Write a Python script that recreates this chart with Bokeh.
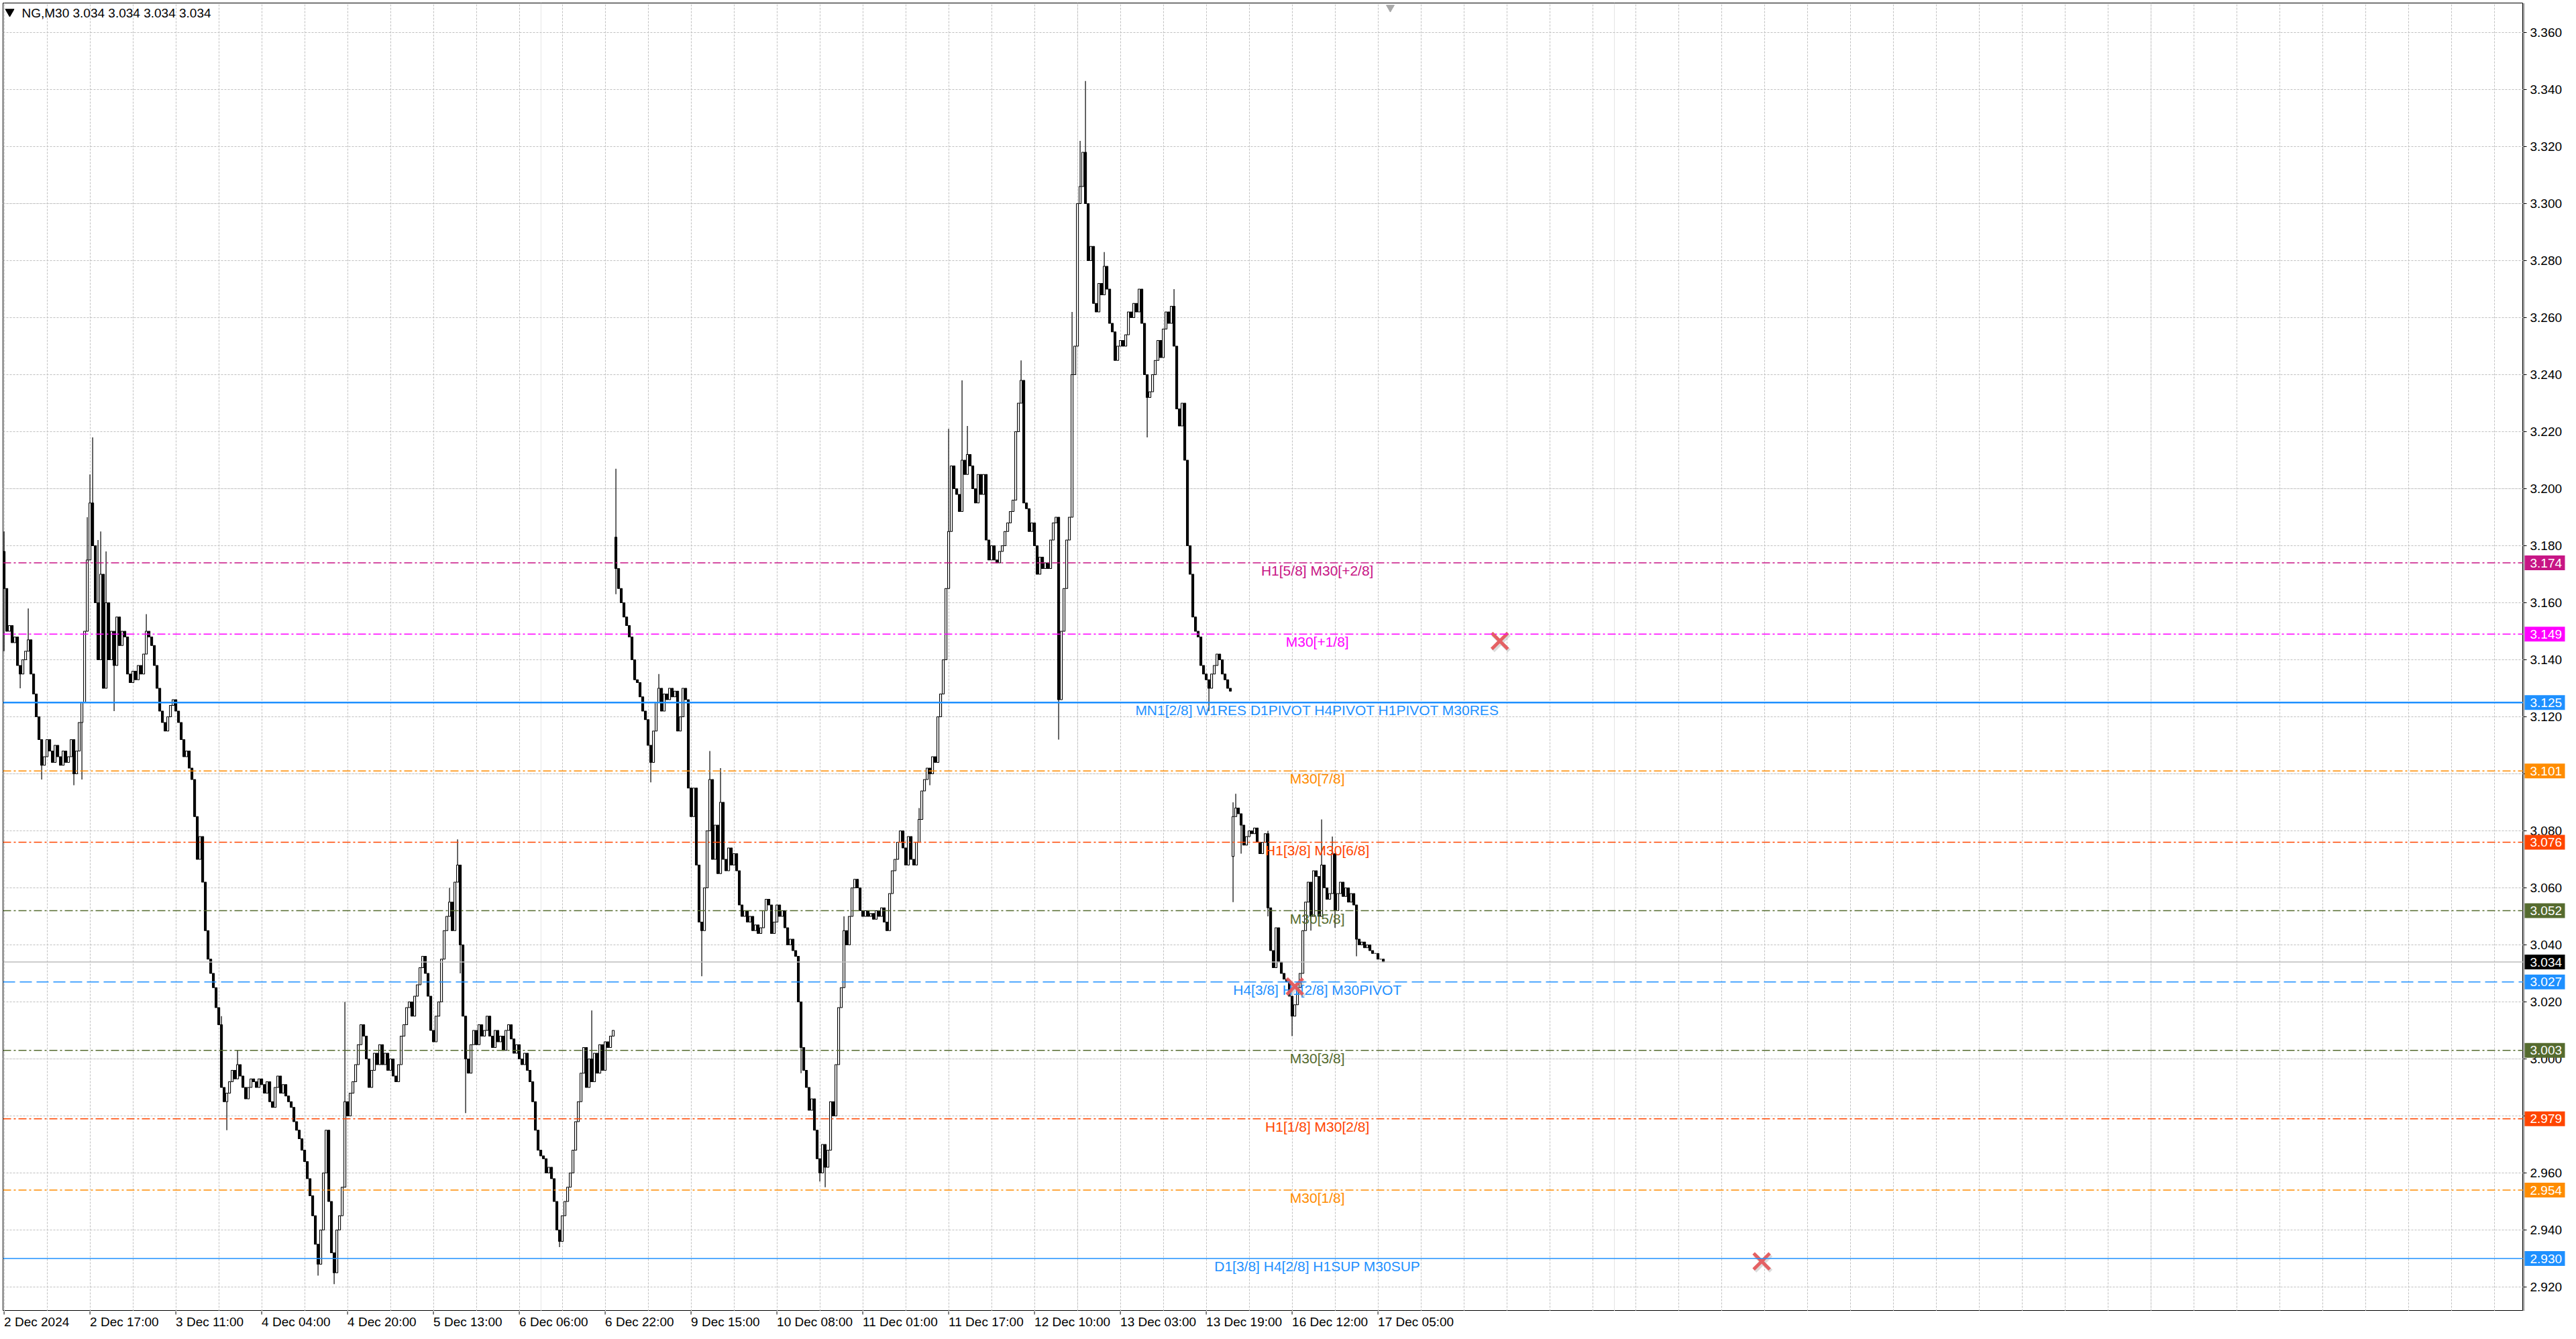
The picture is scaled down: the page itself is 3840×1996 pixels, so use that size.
from bokeh.plotting import figure
from bokeh.layouts import row, column
from bokeh.models import FixedTicker, Span, Grid, Range1d, ColumnDataSource
from bokeh.core.properties import value
from bokeh.embed import file_html
from bokeh.resources import INLINE

# NG, M30 candles, prices in thousandths (bar 0 = 2 Dec 2024 00:00)
title_text = "NG,M30  3.034 3.034 3.034 3.034"
last_price = 3.034

close_k = [
    3165, 3150, 3152, 3146, 3148, 3138, 3135, 3140, 3143, 3147,
    3135, 3128, 3120, 3112, 3103, 3106, 3112, 3108, 3104, 3110,
    3106, 3103, 3108, 3104, 3106, 3112, 3100, 3108, 3118, 3125,
    3150, 3175, 3195, 3180, 3160, 3140, 3170, 3130, 3160, 3140,
    3150, 3138, 3155, 3145, 3150, 3148, 3135, 3132, 3136, 3133,
    3138, 3135, 3142, 3150, 3148, 3145, 3138, 3130, 3122, 3118,
    3115, 3120, 3124, 3126, 3122, 3118, 3112, 3106, 3108, 3102,
    3098, 3085, 3070, 3078, 3062, 3045, 3035, 3030, 3025, 3018,
    3012, 2990, 2985, 2988, 2992, 2996, 2993, 2998, 2994, 2990,
    2986, 2990, 2993, 2992, 2990, 2993, 2991, 2988, 2992, 2985,
    2983, 2990, 2994, 2988, 2991, 2987, 2985, 2983, 2978, 2975,
    2972, 2968, 2964, 2958, 2952, 2945, 2935, 2928, 2940, 2960,
    2975, 2950, 2932, 2925, 2940, 2945, 2955, 2985, 2980, 2988,
    2992, 2998, 3005, 3012, 3008, 3000, 2990, 2996, 3002, 2998,
    3005, 2998, 3002, 2996, 3000, 2994, 2992, 2998, 3008, 3012,
    3018, 3020, 3015, 3022, 3026, 3032, 3036, 3030, 3022, 3010,
    3006, 3015, 3020, 3035, 3045, 3050, 3055, 3045, 3062, 3068,
    3040, 3015, 3000, 2995, 3005, 3010, 3005, 3012, 3008, 3010,
    3015, 3008, 3004, 3010, 3006, 3008, 3003, 3010, 3012, 3007,
    3002, 3005, 3000, 2998, 3002, 2996, 2992, 2985, 2975, 2968,
    2966, 2965, 2960, 2962, 2958, 2950, 2940, 2936, 2945, 2950,
    2955, 2960, 2968, 2978, 2985, 2995, 3004, 2990, 3000, 2992,
    3002, 2995, 3005, 2996, 3006, 3004, 3008, 3010,
    # 9 Dec
    3172, 3165, 3160, 3155, 3152, 3148, 3140, 3133, 3132, 3127,
    3122, 3119, 3110, 3104, 3115, 3125, 3130, 3122, 3128, 3126,
    3130, 3127, 3129, 3115, 3120, 3130, 3126, 3095, 3085, 3095,
    3068, 3048, 3045, 3060, 3080, 3098, 3070, 3082, 3065, 3090,
    3070, 3066, 3074, 3068, 3072, 3066, 3054, 3050, 3052, 3048,
    3050, 3045, 3047, 3044, 3046, 3052, 3056, 3054, 3044, 3048,
    3054, 3050, 3052, 3046, 3040, 3042, 3038, 3036, 3020, 3004,
    2996, 2990, 2982, 2986, 2975, 2965, 2960, 2970, 2962, 2968,
    2985, 2980, 2998, 3018, 3025, 3045, 3040, 3050, 3060, 3063,
    3060, 3052, 3050, 3052, 3050, 3051, 3049, 3052, 3050, 3053,
    3048, 3045, 3058, 3066, 3070, 3076, 3080, 3074, 3068, 3078,
    3070, 3068, 3076, 3084, 3094, 3098, 3102, 3100, 3106, 3104,
    3120, 3128, 3140, 3165, 3185, 3208, 3200, 3198, 3192, 3210,
    3205, 3212, 3208, 3200, 3195, 3205, 3198, 3205, 3182, 3175,
    3180, 3175, 3174, 3178, 3180, 3185, 3188, 3192, 3196, 3220,
    3230, 3238, 3195, 3193, 3185, 3188, 3180, 3170, 3176, 3172,
    3174, 3172, 3182, 3188, 3190, 3126, 3150, 3165, 3182, 3190,
    3240, 3250, 3300, 3306, 3318, 3300, 3280, 3285, 3265, 3262,
    3272, 3268, 3278, 3270, 3258, 3255, 3245, 3250, 3252, 3250,
    3254, 3262, 3260, 3265, 3262, 3270, 3258, 3240, 3232, 3234,
    3240, 3245, 3252, 3246, 3256, 3262, 3258, 3264, 3250, 3228,
    3222, 3230, 3210, 3180, 3170, 3155, 3150, 3148, 3138, 3135,
    3133, 3130, 3135, 3138, 3142, 3140, 3135, 3133, 3130, 3129,
    # 16 Dec
    3085, 3088, 3086, 3082, 3075, 3078, 3080, 3079, 3081, 3076,
    3072, 3076, 3079, 3053, 3038, 3032, 3046, 3034, 3030, 3028,
    3027, 3022, 3015, 3019, 3025, 3030, 3045, 3055, 3062, 3050,
    3066, 3064, 3050, 3068, 3060, 3056, 3058, 3072, 3052, 3058,
    3062, 3057, 3060, 3055, 3058, 3054, 3042, 3040, 3041, 3039,
    3040, 3038, 3037, 3037, 3035, 3035, 3034,
]

# opens that do not follow the previous close (session gaps)
gap_open_k = {0: 3178, 228: 3183, 458: 3071}

# long wicks
high_k = {0: 3185, 9: 3158, 31: 3190, 32: 3205, 33: 3218, 35: 3182, 36: 3185,
          38: 3178, 53: 3156, 81: 3015, 87: 3003, 127: 3020, 166: 3060,
          169: 3077, 219: 3017, 228: 3207, 244: 3135, 263: 3108, 267: 3102,
          313: 3050, 341: 3088, 352: 3221, 357: 3238, 359: 3222, 379: 3245,
          398: 3262, 401: 3322, 403: 3343, 410: 3283, 436: 3270, 441: 3185,
          458: 3090, 459: 3093, 471: 3080, 491: 3084, 495: 3078}
low_k = {0: 3143, 6: 3130, 14: 3098, 26: 3096, 29: 3098, 41: 3122, 83: 2975,
         117: 2924, 123: 2921, 170: 3030, 172: 2981, 207: 2934, 228: 3163,
         241: 3097, 260: 3029, 297: 2995, 304: 2957, 306: 2955, 345: 3096,
         393: 3112, 426: 3218, 449: 3122, 458: 3055, 461: 3072, 471: 3050,
         480: 3008, 487: 3045, 496: 3046, 504: 3036}

# time axis labels, one every 32 bars
date_labels = ["2 Dec 2024", "2 Dec 17:00", "3 Dec 11:00", "4 Dec 04:00",
               "4 Dec 20:00", "5 Dec 13:00", "6 Dec 06:00", "6 Dec 22:00",
               "9 Dec 15:00", "10 Dec 08:00", "11 Dec 01:00", "11 Dec 17:00",
               "12 Dec 10:00", "13 Dec 03:00", "13 Dec 19:00", "16 Dec 12:00",
               "17 Dec 05:00"]

price_ticks = [2.92, 2.94, 2.96, 2.98, 3.00, 3.02, 3.04, 3.06, 3.08, 3.10,
               3.12, 3.14, 3.16, 3.18, 3.20, 3.22, 3.24, 3.26, 3.28, 3.30,
               3.32, 3.34, 3.36]

# Murrey / pivot levels
level_prices = [3.174, 3.149, 3.125, 3.101, 3.076, 3.052, 3.027, 3.003, 2.979, 2.954, 2.930]
level_names = ["H1[5/8] M30[+2/8]", "M30[+1/8]",
               "MN1[2/8] W1RES D1PIVOT H4PIVOT H1PIVOT M30RES",
               "M30[7/8]", "H1[3/8] M30[6/8]", "M30[5/8]",
               "H4[3/8] H1[2/8] M30PIVOT", "M30[3/8]", "H1[1/8] M30[2/8]",
               "M30[1/8]", "D1[3/8] H4[2/8] H1SUP M30SUP"]
level_colors = ["#C71585", "#FF00FF", "#1E90FF", "#FF8C00", "#FF4500", "#556B2F",
                "#1E90FF", "#556B2F", "#FF4500", "#FF8C00", "#1E90FF"]
level_dash = ["12 4 3 4", "12 4 3 4", "solid", "12 4 3 4", "12 4 3 4", "12 4 3 4",
              "18 7", "12 4 3 4", "12 4 3 4", "12 4 3 4", "solid"]
level_width = [1.3, 1.3, 2.5, 1.3, 1.3, 1.3, 1.3, 1.3, 1.3, 1.3, 1.5]

# red cross marks (bar, price)
mark_bars = [557.4, 481.0, 655.0]
mark_prices = [3.1466, 3.0254, 2.929]

FONT = "Liberation Sans"
PAD = 4                      # window edge to chart frame
FRAME_W, FRAME_H = 3757, 1950
SCALE_W, TIME_H = 63, 26
PX_PER_BAR, PX_PER_UNIT = 4.0, 4250.0

# bar i sits at x = 5.6 + 4*i, price p at y = 48 + (3.36 - p) * 4250 (window pixels)
x_start = (PAD - 5.6) / PX_PER_BAR
y_top = 3.36 + (48 - PAD) / PX_PER_UNIT
xr = Range1d(x_start, x_start + FRAME_W / PX_PER_BAR)
yr = Range1d(y_top - FRAME_H / PX_PER_UNIT, y_top)

# build OHLC
opens, highs, lows, closes = [], [], [], []
for i, c in enumerate(close_k):
    o = gap_open_k.get(i, close_k[i - 1] if i else c)
    opens.append(o / 1000)
    closes.append(c / 1000)
    highs.append(max(high_k.get(i, 0), o, c) / 1000)
    lows.append(min(low_k.get(i, 99999), o, c) / 1000)

src = ColumnDataSource(dict(
    x=list(range(len(closes))), h=highs, l=lows,
    top=[max(a, b) for a, b in zip(opens, closes)],
    bot=[min(a, b) for a, b in zip(opens, closes)],
    fill=["white" if c >= o else "black" for o, c in zip(opens, closes)],
))


def bare(fig):
    fig.outline_line_color = None
    fig.background_fill_color = "white"
    fig.border_fill_color = "white"
    fig.min_border = 0
    return fig


# ---- main chart window
p = bare(figure(width=PAD + FRAME_W, height=PAD + FRAME_H, x_range=xr, y_range=yr,
                x_axis_location=None, y_axis_location=None,
                output_backend="svg", toolbar_location=None))
p.min_border_left = PAD
p.min_border_top = PAD
p.outline_line_color = "black"
p.outline_line_width = 1

vgrid = Grid(dimension=0, ticker=FixedTicker(ticks=list(range(0, 940, 16))))
hgrid = Grid(dimension=1, ticker=FixedTicker(ticks=price_ticks))
for g in (vgrid, hgrid):
    g.grid_line_color = "#C0C0C0"
    g.grid_line_dash = "3 2"
    g.grid_line_width = 1
    p.add_layout(g)

for lvl, col, dash, w in zip(level_prices, level_colors, level_dash, level_width):
    p.add_layout(Span(location=lvl, dimension="width", line_color=col,
                      line_dash=dash, line_width=w))
p.add_layout(Span(location=last_price, dimension="width", line_color="#BDBDBD", line_width=1.3))

p.segment(x0="x", y0="l", x1="x", y1="h", source=src, line_color="black", line_width=1.2)
p.vbar(x="x", top="top", bottom="bot", width=0.75, source=src,
       fill_color="fill", line_color="black", line_width=1.1)

lsrc = ColumnDataSource(dict(x=[489.4] * len(level_prices), y=level_prices,
                             t=level_names, c=level_colors))
p.text(x="x", y="y", text="t", text_color="c", source=lsrc,
       text_font=value(FONT), text_font_size="21px",
       text_align="center", text_baseline="top")

p.scatter([b + 0.5 for b in mark_bars], [pr - 0.0006 for pr in mark_prices],
          marker="x", size=34, line_width=6, line_color="#9A9A9A", line_alpha=0.35)
p.scatter(mark_bars, mark_prices, marker="x", size=34, line_width=5,
          line_color="#E4585C", line_alpha=0.95)

p.scatter([2.1], [3.3673], marker="inverted_triangle", size=13, color="black")
p.scatter([516.6], [3.3688], marker="inverted_triangle", size=12, color="#A8A8A8")
p.text(x=[6.6], y=[y_top], text=[title_text], text_font=value(FONT),
       text_font_size="19px", text_color="black", text_baseline="top",
       text_align="left", y_offset=4)

# ---- price scale on the right (shares the price range)
ps = bare(figure(width=SCALE_W, height=PAD + FRAME_H, x_range=Range1d(0, SCALE_W), y_range=yr,
                 x_axis_location=None, y_axis_location=None,
                 output_backend="svg", toolbar_location=None))
ps.min_border_top = PAD
ps.xgrid.visible = False
ps.ygrid.visible = False
ps.segment(x0=[0] * len(price_ticks), y0=price_ticks, x1=[5] * len(price_ticks),
           y1=price_ticks, line_color="black", line_width=1)
ps.text(x=[10] * len(price_ticks), y=price_ticks, text=["%.3f" % t for t in price_ticks],
        text_font=value(FONT), text_font_size="19px", text_color="black",
        text_align="left", text_baseline="middle")
box_prices = level_prices + [last_price]
box_colors = level_colors + ["black"]
ps.rect(x=[32] * len(box_prices), y=box_prices, width=60, height=22,
        height_units="screen", fill_color=box_colors, line_color=None)
ps.text(x=[10] * len(box_prices), y=box_prices, text=["%.3f" % v for v in box_prices],
        text_font=value(FONT), text_font_size="19px", text_color="white",
        text_align="left", text_baseline="middle")
ps.segment(x0=[0.5], y0=[yr.start], x1=[0.5], y1=[yr.end], line_color="black", line_width=1)

# ---- time scale below (shares the bar range)
tick_bars = [32 * k for k in range(len(date_labels))]
pt = bare(figure(width=PAD + FRAME_W, height=TIME_H, x_range=xr, y_range=Range1d(0, TIME_H),
                 x_axis_location=None, y_axis_location=None,
                 output_backend="svg", toolbar_location=None))
pt.min_border_left = PAD
pt.xgrid.visible = False
pt.ygrid.visible = False
pt.segment(x0=tick_bars, y0=[TIME_H] * len(tick_bars), x1=tick_bars,
           y1=[TIME_H - 5] * len(tick_bars), line_color="black", line_width=1)
pt.text(x=tick_bars, y=[TIME_H - 5] * len(tick_bars), text=date_labels,
        text_font=value(FONT), text_font_size="19px", text_color="black",
        text_align="left", text_baseline="top")

layout = column(row(p, ps, spacing=0), pt, spacing=0)
open("out.html", "w").write(file_html(layout, INLINE))
